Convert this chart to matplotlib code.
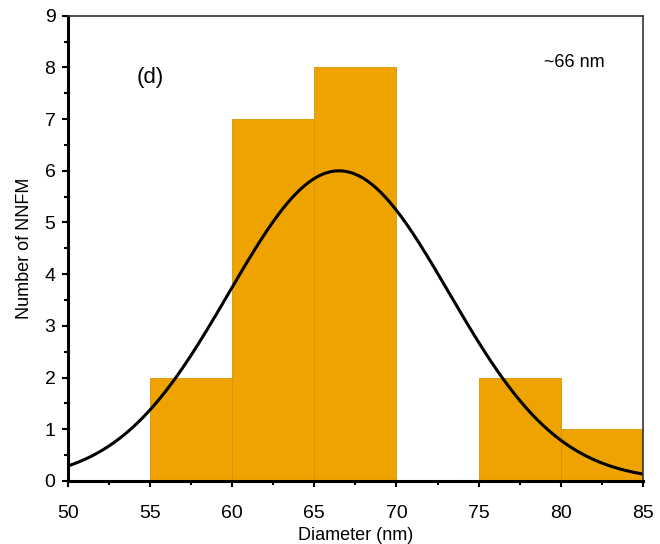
import numpy as np
import matplotlib
matplotlib.use("Agg")
import matplotlib.pyplot as plt
from matplotlib.ticker import MultipleLocator

plt.rcParams['font.family'] = ['Liberation Sans', 'DejaVu Sans']

# histogram of nanofibre diameters
bin_edges = [55, 60, 65, 70, 75, 80, 85]
counts = [2, 7, 8, 0, 2, 1]

# gaussian fit
fit_mean = 66.5
fit_sigma = 6.7
fit_peak = 6.0

fig = plt.figure(figsize=(6.6, 5.44), dpi=100)
ax = fig.add_axes([0.103, 0.116, 0.871, 0.855])

ax.bar(bin_edges[:-1], counts, width=np.diff(bin_edges), align='edge',
       color='#efa300', edgecolor='#d99400', linewidth=0.6)

x = np.linspace(50, 85, 400)
y = fit_peak * np.exp(-(x - fit_mean) ** 2 / (2 * fit_sigma ** 2))
ax.plot(x, y, color='black', lw=2.2)

ax.set_xlim(50, 85)
ax.set_ylim(0, 9)
ax.xaxis.set_major_locator(MultipleLocator(5))
ax.xaxis.set_minor_locator(MultipleLocator(2.5))
ax.yaxis.set_major_locator(MultipleLocator(1))
ax.yaxis.set_minor_locator(MultipleLocator(0.5))
ax.tick_params(which='major', length=4, width=1.5, labelsize=14, direction='out')
ax.tick_params(which='minor', length=3, width=1.5, direction='out')
ax.tick_params(axis='x', which='major', pad=13)
ax.tick_params(axis='y', which='major', pad=5)

for s in ('left', 'bottom'):
    ax.spines[s].set_linewidth(2.2)
for s in ('top', 'right'):
    ax.spines[s].set_linewidth(1.2)
    ax.spines[s].set_color('#333333')

ax.set_xlabel('Diameter (nm)', fontsize=13, labelpad=4)
ax.set_ylabel('Number of NNFM', fontsize=13, labelpad=8)

ax.text(55.0, 7.8, '(d)', fontsize=16, ha='center', va='center')
ax.text(80.8, 8.1, '~66 nm', fontsize=13, ha='center', va='center')

fig.savefig('out.png', dpi=100)
